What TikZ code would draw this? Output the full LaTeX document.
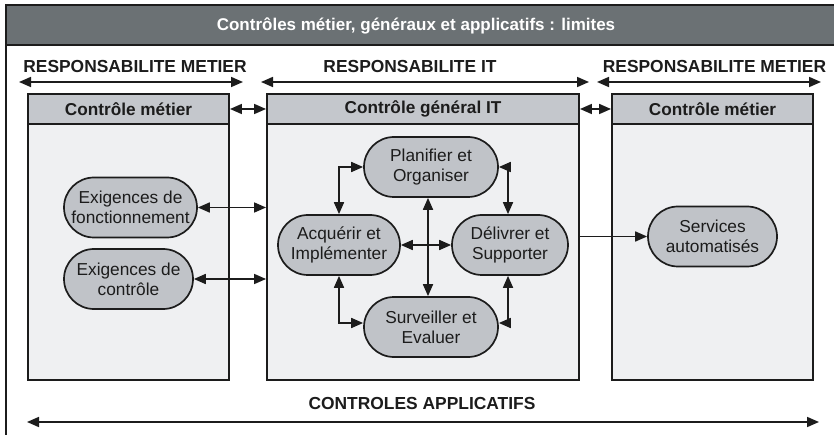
\documentclass[tikz,border=0pt]{standalone}
\usepackage{fontspec}
\setmainfont{Liberation Sans}
\usetikzlibrary{arrows.meta,shapes.misc}

\definecolor{titlegray}{HTML}{6B7174}
\definecolor{headgray}{HTML}{C4C7CC}
\definecolor{bodygray}{HTML}{EFF0F2}
\definecolor{pillgray}{HTML}{C0C3C8}
\definecolor{ink}{HTML}{1C1C1C}

\tikzset{
  every node/.style={text=ink, inner sep=0pt},
  >={Triangle[length=12pt,width=10pt]},
  frameline/.style={draw=ink, line width=1.9pt},
  panel/.style={draw=ink, line width=1.9pt, fill=bodygray,
    minimum width=#1, minimum height=286pt},
  panelhead/.style={draw=ink, line width=1.9pt, fill=headgray,
    minimum width=#1, minimum height=30pt, anchor=north,
    font=\bfseries\fontsize{17.2}{20}\selectfont},
  pill/.style={rounded rectangle, draw=ink, line width=1.7pt, fill=pillgray,
    minimum height=60pt, align=center,
    font=\fontsize{17.3}{20}\selectfont},
  band/.style={anchor=base, font=\bfseries\fontsize{17.4}{20}\selectfont},
  conn/.style={draw=ink, line width=1.7pt},
}

\begin{document}
\begin{tikzpicture}[x=1pt,y=-1pt]
\useasboundingbox (0,0) rectangle (834,435);
\fill[white] (0,0) rectangle (834,435);

% title bar and outer frame
\node[fill=titlegray, minimum width=828pt, minimum height=40pt, anchor=north west] (titlebar) at (6,5) {};
\node[anchor=base, text=white, font=\bfseries\fontsize{17}{20}\selectfont] (title) at (416,31)
  {Contrôles métier, généraux et applicatifs : limites};
\draw[frameline] (834,5) -- (6,5) -- (6,436);
\draw[frameline] (6,45) -- (834,45);

% responsibility bands
\node[band] (resp1) at (135,72.5) {RESPONSABILITE METIER};
\node[band] (resp2) at (410,72.5) {RESPONSABILITE IT};
\node[band] (resp3) at (714.5,72.5) {RESPONSABILITE METIER};
\coordinate (r1a) at (19,82);  \coordinate (r1b) at (243,82);
\coordinate (r2a) at (261,82); \coordinate (r2b) at (589,82);
\coordinate (r3a) at (597,82); \coordinate (r3b) at (821,82);
\draw[conn,<->] (r1a) -- (r1b);
\draw[conn,<->] (r2a) -- (r2b);
\draw[conn,<->] (r3a) -- (r3b);

% panels
\node[panel=201pt] (lbox) at (128.5,237) {};
\node[panel=312pt] (mbox) at (423,237) {};
\node[panel=201pt] (rbox) at (712.5,237) {};
\node[panelhead=201pt] (lhead) at (lbox.north) {Contrôle métier};
\node[panelhead=312pt] (mhead) at (mbox.north) {Contrôle général IT};
\node[panelhead=201pt] (rhead) at (rbox.north) {Contrôle métier};
\draw[conn,<->] (lhead.east) -- (mhead.west);
\draw[conn,<->] (mhead.east) -- (rhead.west);

% business requirements
\node[pill, minimum width=133pt] (fonc) at (130.5,207.5) {Exigences de\\fonctionnement};
\node[pill, minimum width=129pt] (ctrl) at (128.5,279) {Exigences de\\contrôle};
\draw[conn,<->] (fonc.east) -- (fonc.east -| mbox.west);
\draw[conn,<->] (ctrl.east) -- (ctrl.east -| mbox.west);

% IT processes
\node[pill, minimum width=134pt] (plan) at (431,167) {Planifier et\\Organiser};
\node[pill, minimum width=122pt] (acq) at (339,245) {Acquérir et\\Implémenter};
\node[pill, minimum width=116pt] (deliv) at (510,245) {Délivrer et\\Supporter};
\node[pill, minimum width=134pt] (surv) at (431,327) {Surveiller et\\Evaluer};
\draw[conn,<->] (plan.west) -| (acq.north);
\draw[conn,<->] (plan.east) -| ([xshift=-2pt]deliv.north);
\draw[conn,<->] (acq.south) |- ([yshift=4pt]surv.west);
\draw[conn,<->] ([xshift=-2pt]deliv.south) |- ([yshift=4pt]surv.east);
\draw[conn,<->] ([xshift=-3pt]plan.south) -- ([xshift=-3pt]surv.north);
\draw[conn,<->] (acq.east) -- (deliv.west);

% automated services
\node[pill, minimum width=129pt] (serv) at (712.5,236.5) {Services\\automatisés};
\draw[conn,->] (mbox.east |- serv.west) -- (serv.west);

% application controls
\node[band] (appl) at (422,409) {CONTROLES APPLICATIFS};
\coordinate (apa) at (27,422); \coordinate (apb) at (819,422);
\draw[conn,<->] (apa) -- (apb);
\end{tikzpicture}
\end{document}
